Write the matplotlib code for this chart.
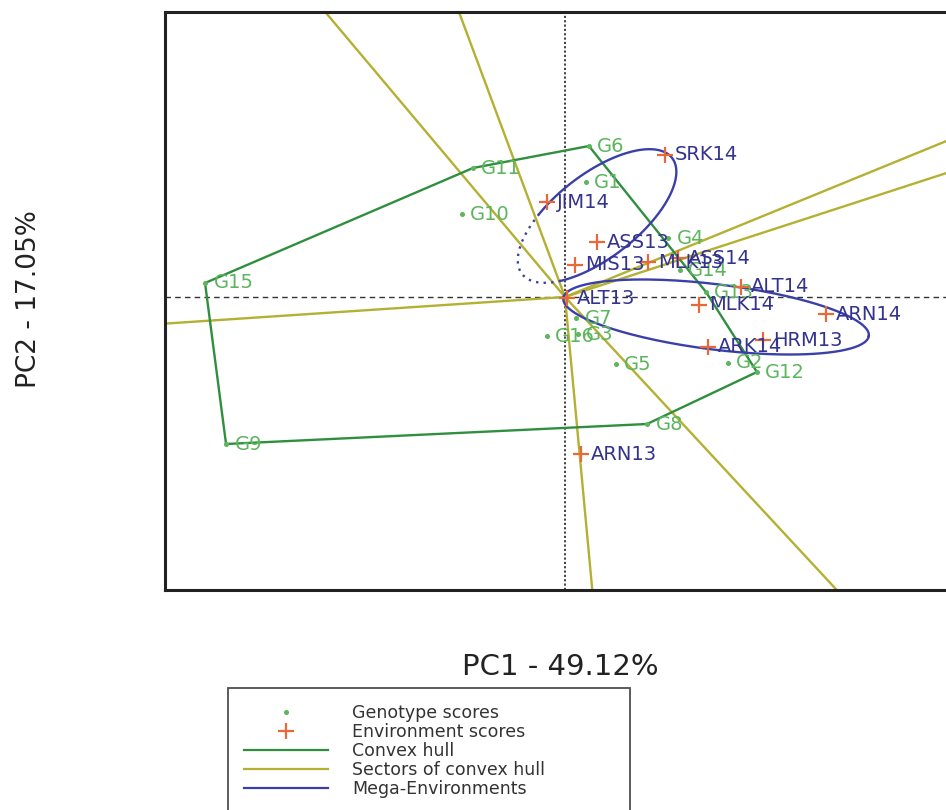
import numpy as np
import matplotlib.pyplot as plt
from matplotlib.lines import Line2D

# genotype scores on the first two principal components
gen_names = ['G1', 'G2', 'G3', 'G4', 'G5', 'G6', 'G7', 'G8',
             'G9', 'G10', 'G11', 'G12', 'G13', 'G14', 'G15', 'G16']
gen_pc1 = [0.150, 1.164, 0.093, 0.736, 0.364, 0.171, 0.079, 0.586,
           -2.421, -0.736, -0.657, 1.371, 1.007, 0.821, -2.571, -0.129]
gen_pc2 = [1.15, -0.66, -0.37, 0.59, -0.67, 1.51, -0.21, -1.27,
           -1.47, 0.83, 1.29, -0.75, 0.05, 0.27, 0.14, -0.39]

# environment scores
env_names = ['SRK14', 'JIM14', 'ASS13', 'MIS13', 'MLK13', 'ASS14', 'ALT13',
             'ALT14', 'MLK14', 'ARN14', 'ARK14', 'HRM13', 'ARN13']
env_pc1 = [0.714, -0.129, 0.229, 0.071, 0.593, 0.807, 0.014,
           1.257, 0.957, 1.864, 1.021, 1.414, 0.114]
env_pc2 = [1.42, 0.95, 0.55, 0.32, 0.35, 0.39, -0.01,
           0.10, -0.08, -0.17, -0.50, -0.43, -1.57]

# vertex genotypes of the convex hull, in drawing order
hull_order = ['G6', 'G13', 'G12', 'G8', 'G9', 'G15', 'G11']

# mega-environments: centre and two conjugate semi-axes of each ellipse
me_centre = [(0.229, 0.81), (1.079, -0.20)]
me_axis_a = [(0.536, 0.58), (1.091, -0.189)]
me_axis_b = [(0.183, -0.332), (-0.029, -0.324)]
# angular span (degrees) drawn dotted
me_dotted = [(136, 242), None]

pc1_label = 'PC1 - 49.12%'
pc2_label = 'PC2 - 17.05%'

col_gen = '#5db55d'
col_env_mark = '#e8683a'
col_env_text = '#33338f'
col_hull = '#2f8f3f'
col_sector = '#b4b032'
col_me = '#3b40a8'

plt.rcParams['font.family'] = ['DejaVu Sans']

fig = plt.figure(figsize=(9.46, 8.10), dpi=100)
ax = fig.add_axes([165 / 946, 1 - 590 / 810, 835 / 946, 578 / 810])
ax.set_xlim(-2.857, 3.107)
ax.set_ylim(-2.93, 2.85)
ax.set_xticks([])
ax.set_yticks([])
for s in ax.spines.values():
    s.set_linewidth(2.2)
    s.set_color('#222222')

# origin reference lines
ax.axhline(0, color='#333333', lw=1.0, ls=(0, (4, 3)), zorder=1)
ax.axvline(0, color='#333333', lw=1.3, ls=(0, (1.2, 1.2)), zorder=1)

gx = dict(zip(gen_names, gen_pc1))
gy = dict(zip(gen_names, gen_pc2))
hx = np.array([gx[g] for g in hull_order])
hy = np.array([gy[g] for g in hull_order])

# convex hull
ax.plot(np.append(hx, hx[0]), np.append(hy, hy[0]), color=col_hull, lw=1.7, zorder=3)

# sector lines: from the origin, perpendicular to each hull edge
for i in range(len(hx)):
    p1 = np.array([hx[i], hy[i]])
    p2 = np.array([hx[(i + 1) % len(hx)], hy[(i + 1) % len(hy)]])
    d = p2 - p1
    t = -np.dot(p1, d) / np.dot(d, d)
    foot = p1 + t * d
    far = foot / np.linalg.norm(foot) * 20
    ax.plot([0, far[0]], [0, far[1]], color=col_sector, lw=1.7, zorder=2)

# mega-environment ellipses
for c, a, b, dot in zip(me_centre, me_axis_a, me_axis_b, me_dotted):
    c, a, b = np.array(c), np.array(a), np.array(b)
    if dot is None:
        spans = [((0, 360), '-')]
    else:
        spans = [((dot[1], dot[0] + 360), '-'), (dot, (0, (1, 2.2)))]
    for (t0, t1), ls in spans:
        t = np.radians(np.linspace(t0, t1, 200))
        ex = c[0] + a[0] * np.cos(t) + b[0] * np.sin(t)
        ey = c[1] + a[1] * np.cos(t) + b[1] * np.sin(t)
        ax.plot(ex, ey, color=col_me, lw=1.7, ls=ls, zorder=4)

# points and labels
ax.plot(gen_pc1, gen_pc2, 'o', color=col_gen, ms=2.6, zorder=5)
for n, x, y in zip(gen_names, gen_pc1, gen_pc2):
    ax.annotate(n, (x, y), xytext=(6, 0), textcoords='offset points',
                ha='left', va='center', color=col_gen, fontsize=14, zorder=6)

ax.plot(env_pc1, env_pc2, '+', color=col_env_mark, ms=12, mew=1.6, zorder=5)
for n, x, y in zip(env_names, env_pc1, env_pc2):
    ax.annotate(n, (x, y), xytext=(7, 0), textcoords='offset points',
                ha='left', va='center', color=col_env_text, fontsize=14, zorder=7)

fig.text(560 / 946, 1 - 667 / 810, pc1_label, ha='center', va='center',
         fontsize=21, color='#222222')
fig.text(29 / 946, 1 - 299 / 810, pc2_label, ha='center', va='center',
         rotation=90, fontsize=19, color='#222222')

handles = [
    Line2D([], [], ls='none', marker='o', ms=2.6, color=col_gen),
    Line2D([], [], ls='none', marker='+', ms=11, mew=1.6, color=col_env_mark),
    Line2D([], [], color=col_hull, lw=1.6),
    Line2D([], [], color=col_sector, lw=1.6),
    Line2D([], [], color=col_me, lw=1.6),
]
labels = ['Genotype scores', 'Environment scores', 'Convex hull',
          'Sectors of convex hull', 'Mega-Environments']
leg = fig.legend(handles, labels, loc='upper left',
                 bbox_to_anchor=(228 / 946, 0.0, 402 / 946, 1 - 688 / 810),
                 mode='expand', borderaxespad=0, fontsize=12.5, handlelength=4.8,
                 handletextpad=1.4, labelspacing=0.05, borderpad=0.95,
                 fancybox=False, frameon=True)
leg.get_frame().set_edgecolor('#222222')
leg.get_frame().set_linewidth(1.3)
for t in leg.get_texts():
    t.set_color('#333333')

fig.savefig('out.png', dpi=100)
